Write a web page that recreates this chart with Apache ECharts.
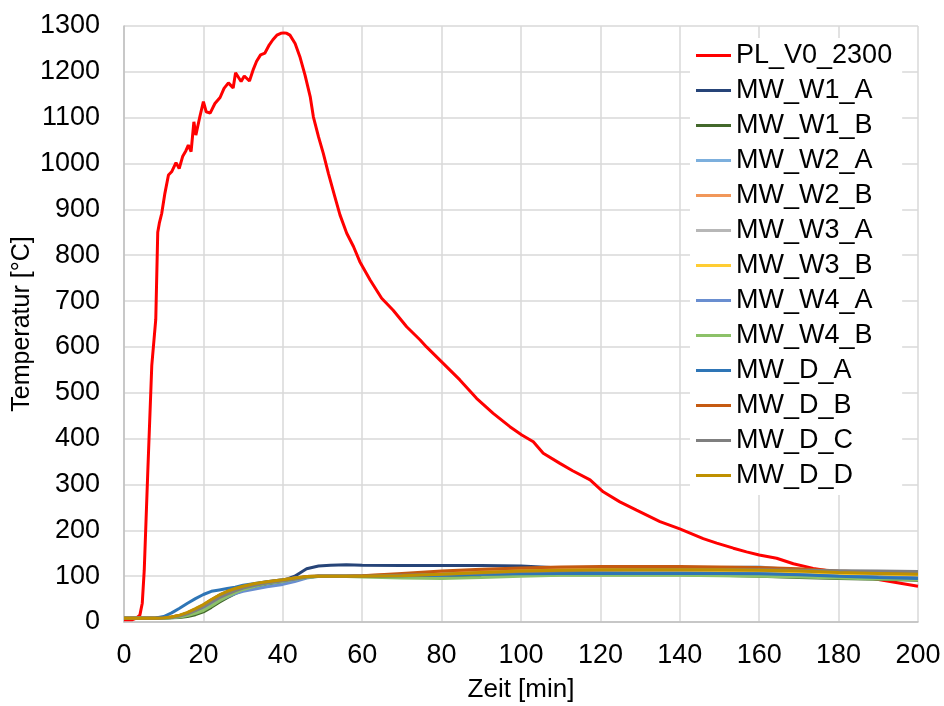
<!DOCTYPE html>
<html>
<head>
<meta charset="utf-8">
<script src="https://cdn.jsdelivr.net/npm/echarts@6/dist/echarts.min.js"></script>
<style>
html,body{margin:0;padding:0;background:#fff;}
#c{width:944px;height:706px;}
</style>
</head>
<body>
<div id="c"></div>
<script>
// ---- data ----
const seriesNames = ["PL_V0_2300","MW_W1_A","MW_W1_B","MW_W2_A","MW_W2_B","MW_W3_A","MW_W3_B","MW_W4_A","MW_W4_B","MW_D_A","MW_D_B","MW_D_C","MW_D_D"];
const seriesColors = ["#FF0000","#264478","#43682B","#7CAFDD","#F1975A","#B7B7B7","#FFCD33","#698ED0","#8CC168","#2E75B6","#C55A11","#7F7F7F","#BF9000"];

const xTicks = [0,20,40,60,80,100,120,140,160,180,200];
const yTicks = [0,100,200,300,400,500,600,700,800,900,1000,1100,1200,1300];

const plTime = [0,2,3,4,4.6,5.1,6,7,8,8.5,8.9,9.5,10.3,11.2,12,13.1,13.9,14.8,15.6,16.2,16.9,17.6,18.1,19.1,20,20.7,21.7,22.9,24.2,25.2,26.3,27.5,28.1,29.5,30.3,31.6,32.6,33.4,34.4,35.5,36.6,37.5,38.5,39.5,40.3,41,41.8,43.1,44.3,45.6,46.9,47.7,49,50.2,51.5,53.1,54.4,56.1,57.8,59.4,62,64.9,67.8,71.2,74.6,76.2,80.4,84.6,88.8,93,97.2,100.2,103.1,105.6,109.8,113,117.4,120.7,124.9,129.1,135,140,145.9,149.3,153.5,156.8,160,164.4,168.6,173.6,182,190.4,200];
const plValues = [5,5,8,15,41,113,330,560,660,850,870,891,935,975,982,1002,989,1016,1028,1040,1026,1091,1062,1102,1135,1113,1110,1131,1144,1164,1176,1165,1198,1179,1191,1180,1206,1223,1237,1241,1259,1270,1280,1284,1285,1284,1280,1262,1233,1193,1146,1102,1058,1022,978,928,888,848,819,786,746,706,680,644,615,600,564,528,488,455,426,408,393,368,346,330,310,284,262,244,219,203,182,172,161,153,146,139,127,117,106,92,78];

const mwTime = [0,6,8,10,12,14,16,18,20,22,24,26,28,30,33,36,40,43,46,49,52,56,60,70,80,90,100,110,120,130,140,150,160,170,180,190,200];
const mwW1A = [8,8,8,9,10,13,18,24,32,42,52,60,67,72,79,84,90,100,116,122,124,125,124,123,123,123,122,118,115,114,113,112,110,107,103,100,98];
const mwW1B = [8,8,8,8,9,10,12,16,22,32,43,53,62,69,77,83,88,93,98,100,100,100,100,100,100,101,102,103,103,103,103,102,100,97,95,93,91];
const mwW2A = [8,8,8,9,11,14,19,26,34,44,54,62,69,74,80,85,89,93,98,100,100,100,100,102,105,108,111,114,116,117,118,119,120,113,108,106,104];
const mwW2B = [8,8,8,9,11,14,20,28,37,48,58,66,72,77,83,88,92,96,99,100,100,100,101,104,108,112,115,117,118,118,118,117,115,112,109,107,105];
const mwW3A = [8,8,8,9,10,13,18,25,33,43,53,61,68,74,80,85,90,94,98,100,100,100,100,101,103,105,107,108,109,109,109,109,108,107,106,105,104];
const mwW3B = [8,8,8,9,11,14,19,27,35,46,56,64,70,76,82,87,91,95,99,100,100,100,100,101,103,106,108,110,111,111,111,111,110,108,106,104,102];
const mwW4A = [8,8,8,9,10,12,16,22,29,38,47,55,62,67,72,77,82,88,96,100,100,100,100,101,102,104,105,106,107,107,107,106,105,103,100,98,96];
const mwW4B = [8,8,8,8,9,11,14,19,25,35,46,56,64,71,78,84,89,93,97,99,99,99,98,96,95,97,100,102,102,102,102,101,100,98,96,94,92];
const mwDA  = [8,8,9,12,20,30,41,51,60,67,70,73,76,80,84,88,92,95,99,100,100,100,100,101,102,104,105,106,106,106,106,106,105,103,100,97,95];
const mwDB  = [8,8,8,9,11,14,20,28,37,48,58,66,72,77,83,87,91,95,99,100,100,100,101,106,111,115,118,120,121,121,121,120,119,116,111,108,106];
const mwDC  = [8,8,8,9,10,13,18,25,33,43,53,61,68,74,80,85,90,94,98,100,100,100,100,102,104,107,110,112,113,114,114,114,114,113,112,111,110];
const mwDD  = [8,8,8,9,11,15,21,29,38,49,59,67,73,78,84,88,92,96,99,100,100,100,100,101,104,108,111,113,114,114,114,114,113,111,108,106,104];

const mwValues = [mwW1A,mwW1B,mwW2A,mwW2B,mwW3A,mwW3B,mwW4A,mwW4B,mwDA,mwDB,mwDC,mwDD];

// ---- build ----
function pairs(t, v){ return t.map((x,i)=>[x, v[i]]); }

const series = [];
series.push({name: seriesNames[0], type:'line', data: pairs(plTime, plValues)});
mwValues.forEach((v,i)=>series.push({name: seriesNames[i+1], type:'line', data: pairs(mwTime, v)}));
series.forEach((s,i)=>{
  s.showSymbol = false; s.symbol = 'none'; s.smooth = false;
  s.lineStyle = {width: 3, color: seriesColors[i]};
  s.itemStyle = {color: seriesColors[i]};
  s.animation = false;
});

const font = 'Liberation Sans, Arial, sans-serif';
const chart = echarts.init(document.getElementById('c'), null, {renderer:'canvas'});
chart.setOption({
  backgroundColor:'#fff',
  animation:false,
  grid:{left:124, right:26, top:26, bottom:84, containLabel:false, outerBoundsMode:'none'},
  legend:{
    orient:'vertical', left:690, top:38,
    backgroundColor:'#fff', padding:[4,10,6,6],
    icon:'rect', itemWidth:35, itemHeight:3, itemGap:8,
    textStyle:{fontFamily:font, fontSize:27, color:'#000', lineHeight:27},
    data: seriesNames
  },
  xAxis:{
    type:'value', min:xTicks[0], max:xTicks[xTicks.length-1], interval:20,
    name:'Zeit [min]', nameLocation:'middle', nameGap:55, nameMoveOverlap:false,
    nameTextStyle:{fontFamily:font, fontSize:26, color:'#000'},
    axisLine:{show:true, lineStyle:{color:'#BFBFBF', width:1.5}},
    axisTick:{show:false},
    axisLabel:{fontFamily:font, fontSize:27, color:'#000', margin:20, formatter:(v)=>String(v)},
    splitLine:{show:true, lineStyle:{color:'#D9D9D9', width:1.5}}
  },
  yAxis:{
    type:'value', min:yTicks[0], max:yTicks[yTicks.length-1], interval:100,
    name:'Temperatur [°C]', nameLocation:'middle', nameGap:89, nameRotate:90, nameMoveOverlap:false,
    nameTextStyle:{fontFamily:font, fontSize:25, color:'#000'},
    axisLine:{show:true, lineStyle:{color:'#BFBFBF', width:1.5}},
    axisTick:{show:false},
    axisLabel:{fontFamily:font, fontSize:27, color:'#000', margin:24, formatter:(v)=>String(v)},
    splitLine:{show:true, lineStyle:{color:'#D9D9D9', width:1.5}}
  },
  series: series
});
</script>
</body>
</html>
